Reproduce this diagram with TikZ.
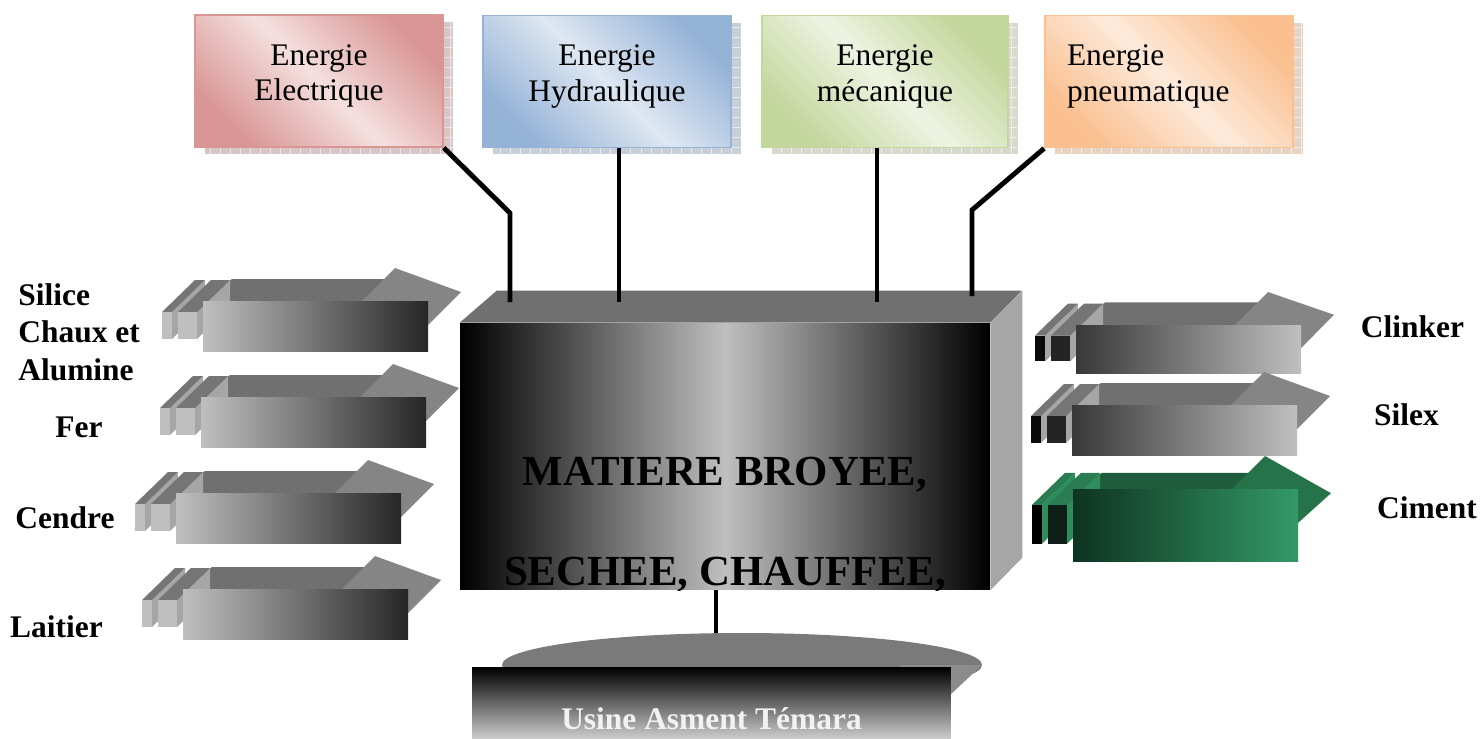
\documentclass[tikz,border=0pt]{standalone}
\usepackage{fontspec}
\setmainfont{Liberation Serif}
\usetikzlibrary{calc, shadows, patterns.meta}

\definecolor{elecdark}{HTML}{D99694}
\definecolor{eleclight}{HTML}{F4E0DF}
\definecolor{elecshadow}{HTML}{D8C6C6}
\definecolor{hydrdark}{HTML}{95B3D7}
\definecolor{hydrlight}{HTML}{DEE7F2}
\definecolor{hydrshadow}{HTML}{C9CFD8}
\definecolor{mecadark}{HTML}{C3D69B}
\definecolor{mecalight}{HTML}{EEF3E2}
\definecolor{mecashadow}{HTML}{D6D9CB}
\definecolor{pneudark}{HTML}{FAC090}
\definecolor{pneulight}{HTML}{FDEADB}
\definecolor{pneushadow}{HTML}{E6D3C3}
\definecolor{cimdark}{HTML}{0E3321}
\definecolor{cimlight}{HTML}{339966}
\definecolor{cimtop}{HTML}{1F5C3E}
\definecolor{cimhead}{HTML}{267349}
\definecolor{cimfintop}{HTML}{2A7D51}
\definecolor{cimfinside}{HTML}{2F8C5B}
\definecolor{cimfin}{HTML}{0D1F17}

% lifts the two lines of an energy box a little
\newcommand{\edown}{\rule[-9.5pt]{0pt}{9.5pt}}
% one fin behind an arrow: #1,#2 left/right x, #3 y of arrow, #4 arrow height, #5 colour set, #6 front fill
\newcommand{\arrowfin}[6]{%
  \fill[#5 finside] ({#2},{#3+0.22*#4}) -- ++(33,-32) -- ++(0,{0.54*#4}) -- ({#2},{#3+0.76*#4}) -- cycle;
  \fill[#5 fintop] ({#1},{#3+0.22*#4}) -- ++(33,-32) -- ({#2+33},{#3+0.22*#4-32}) -- ({#2},{#3+0.22*#4}) -- cycle;
  \fill[#6] ({#1},{#3+0.22*#4}) rectangle ({#2},{#3+0.76*#4});
}
% block arrow: #1,#2 top left of the front face, #3 height, #4 colour set, #5/#6 fin fronts
\newcommand{\blockarrow}[6]{%
  \fill[#4 top] (#1,#2) -- ({#1+29},{#2-22+0.27*(#3-50)}) -- ({#1+185},{#2-22+0.27*(#3-50)}) -- ({#1+165},#2) -- cycle;
  \fill[#4 head] ({#1+159},#2) -- ({#1+192},{#2-33}) -- ({#1+258},{#2-9+0.6*(#3-50)}) -- ({#1+225},{#2+24+0.45*(#3-50)}) -- ({#1+225},#2) -- cycle;
  \arrowfin{#1-41}{#1-31}{#2}{#3}{#4}{#5}
  \arrowfin{#1-25}{#1-6}{#2}{#3}{#4}{#6}
  \fill[#4 front] (#1,#2) rectangle ({#1+225},{#2+#3});
}

\begin{document}
\begin{tikzpicture}[x=0.02cm, y=-0.02cm,
    ebox/.style={draw=#1dark, line width=1pt, top color=#1dark, bottom color=#1dark,
      middle color=#1light, shading angle=-45, minimum width=4.96cm, minimum height=2.64cm,
      align=center, inner sep=0pt, font=\fontsize{17.9pt}{20.4pt}\selectfont,
      general shadow={shadow xshift=0.2cm, shadow yshift=-0.14cm, fill=#1shadow, draw=none,
        postaction={pattern={Hatch[distance=5.7pt, angle=0, line width=0.5pt]},
          pattern color=white!55!#1shadow}}},
    lbl/.style={inner sep=0pt, font=\fontsize{17.9pt}{21.3pt}\selectfont\bfseries},
    wire/.style={line width=2.8pt, black},
    inp top/.style={fill=black!56}, inp head/.style={fill=black!48},
    inp finside/.style={fill=black!35}, inp fintop/.style={fill=black!54},
    inp front/.style={left color=black!25, right color=black!85},
    outp top/.style={fill=black!56}, outp head/.style={fill=black!48},
    outp finside/.style={fill=black!35}, outp fintop/.style={fill=black!54},
    outp front/.style={left color=black!78, right color=black!25},
    cim top/.style={fill=cimtop}, cim head/.style={fill=cimhead},
    cim finside/.style={fill=cimfinside}, cim fintop/.style={fill=cimfintop},
    cim front/.style={left color=cimdark, right color=cimlight}]
  \useasboundingbox (0,0) rectangle (1482,738);
  \clip (0,0) rectangle (1482,738);

  % energy boxes
  \node[ebox=elec] (elec) at (319,81) {Energie\\Electrique\edown};
  \node[ebox=hydr] (hydr) at (607,81.5) {Energie\\Hydraulique\edown};
  \node[ebox=meca, minimum width=4.92cm] (meca) at (885,81.5) {Energie\\mécanique\edown};
  \node[ebox=pneu, align=left, text width=4.08cm, inner xsep=0.44cm] (pneu) at (1169,81.5) {Energie\\pneumatique\edown};

  % main box
  \node[minimum width=10.6cm, minimum height=5.34cm, inner sep=0pt,
    left color=black, right color=black, middle color=black!25] (broyage) at (725,456.5) {};
  \fill[black!56] (broyage.north west) -- ++(37,-32) -- ++(525,0) -- (broyage.north east) -- cycle;
  \fill[black!35] (broyage.north east) -- ++(32,-32) -- ++(0,267) -- (broyage.south east) -- cycle;
  \begin{scope}
    \clip (broyage.south west) rectangle (broyage.north east);
    \node[anchor=base, align=center, inner sep=0pt,
      font=\fontsize{24.4pt}{56.7pt}\selectfont\bfseries] (broyagetxt) at (725,585)
      {MATIERE BROYEE,\\SECHEE, CHAUFFEE,};
  \end{scope}

  % connectors
  \coordinate (bend1) at (510,213);
  \coordinate (top1) at (510,302);
  \coordinate (top2) at (619,302);
  \coordinate (top3) at (877,302);
  \coordinate (bend4) at (972,210);
  \coordinate (top4) at (972,296);
  \coordinate (foot) at (716,637);
  \draw[wire] (elec.south east) -- (bend1) -- (top1);
  \draw[wire] (top2 |- hydr.south) -- (top2);
  \draw[wire] (top3 |- meca.south) -- (top3);
  \draw[wire] (pneu.south west) -- (bend4) -- (top4);
  \draw[wire] (foot |- broyage.south) -- (foot);

  % input arrows
  \blockarrow{203}{301}{50}{inp}{black!25}{black!25}
  \blockarrow{201}{397}{50}{inp}{black!25}{black!25}
  \blockarrow{176}{493}{50}{inp}{black!25}{black!25}
  \blockarrow{183}{589}{50}{inp}{black!25}{black!25}
  % output arrows
  \blockarrow{1076}{325}{48}{outp}{black!96}{black!86}
  \blockarrow{1072}{405}{50}{outp}{black!96}{black!86}
  \blockarrow{1073}{489}{72}{cim}{black}{cimfin}

  % labels
  \node[lbl, align=left, anchor=west] (silice) at (18,332) {Silice\\Chaux et\\Alumine};
  \node[lbl, anchor=base] (fer) at (79,437) {Fer};
  \node[lbl, anchor=base] (cendre) at (65,528) {Cendre};
  \node[lbl, anchor=base] (laitier) at (56.5,637) {Laitier};
  \node[lbl, anchor=base] (clinker) at (1412.5,337) {Clinker};
  \node[lbl, anchor=base] (silex) at (1406.5,425) {Silex};
  \node[lbl, anchor=base] (ciment) at (1427,518) {Ciment};

  % plant
  \fill[black!52] (742,665) ellipse [x radius=240, y radius=32];
  \fill[black!45] (982,665) -- (932,712) -- (900,712) -- (900,665) -- cycle;
  \node[minimum width=9.58cm, minimum height=1.42cm, inner sep=0pt, anchor=north,
    top color=black, bottom color=black!20, text=white!95!black,
    font=\fontsize{17.9pt}{20pt}\selectfont\bfseries] (usine) at (711.5,667) {};
  \node[anchor=base, inner sep=0pt, text=white!95!black,
    font=\fontsize{17.9pt}{20pt}\selectfont\bfseries] (usinetxt) at (711.5,729) {Usine Asment Témara};
\end{tikzpicture}
\end{document}
